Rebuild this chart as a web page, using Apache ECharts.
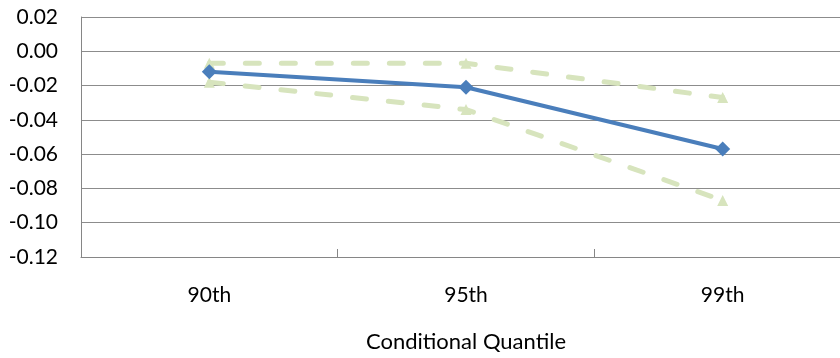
<!DOCTYPE html>
<html>
<head>
<meta charset="utf-8">
<script src="https://cdn.jsdelivr.net/npm/echarts@6/dist/echarts.min.js"></script>
<style>html,body{margin:0;padding:0;background:#fff}#c{width:840px;height:358px}</style>
</head>
<body>
<div id="c"></div>
<script>
var categories = ['90th', '95th', '99th'];
var estimate = [-0.012, -0.021, -0.057];
var upperBound = [-0.007, -0.007, -0.027];
var lowerBound = [-0.018, -0.034, -0.087];
var yTicks = { min: -0.12, max: 0.02, step: 0.02 };

var chart = echarts.init(document.getElementById('c'));
var fontFam = 'Lato, "Open Sans", sans-serif';
var dashStyle = { color: '#d7e4bd', width: 5, type: [14, 22], cap: 'round' };
chart.setOption({
  animation: false,
  grid: { left: 81, top: 17, width: 770, height: 240, containLabel: false, outerBoundsMode: 'none' },
  xAxis: {
    type: 'category',
    data: categories,
    boundaryGap: true,
    name: 'Conditional Quantile',
    nameLocation: 'middle',
    nameGap: 74,
    nameTextStyle: { fontFamily: fontFam, fontSize: 22, color: '#000' },
    axisLine: { onZero: false, lineStyle: { color: '#868686', width: 1 } },
    axisTick: { show: true, inside: true, length: 8, alignWithLabel: false, lineStyle: { color: '#868686' } },
    axisLabel: { margin: 28, fontFamily: fontFam, fontSize: 21, color: '#000' },
    splitLine: { show: false }
  },
  yAxis: {
    type: 'value',
    min: yTicks.min,
    max: yTicks.max,
    interval: yTicks.step,
    axisLine: { show: true, lineStyle: { color: '#868686', width: 1 } },
    axisTick: { show: false },
    axisLabel: { margin: 23, fontFamily: fontFam, fontSize: 21, color: '#000',
      formatter: function (v) { return (Math.abs(v) < 1e-9 ? 0 : v).toFixed(2); } },
    splitLine: { lineStyle: { color: '#8c8c8c', width: 1 } }
  },
  series: [
    { type: 'line', data: upperBound, symbol: 'triangle', symbolSize: 11,
      itemStyle: { color: '#d7e4bd' }, lineStyle: dashStyle, z: 2 },
    { type: 'line', data: lowerBound, symbol: 'triangle', symbolSize: 11,
      itemStyle: { color: '#d7e4bd' }, lineStyle: dashStyle, z: 2 },
    { type: 'line', data: estimate, symbol: 'diamond', symbolSize: 15,
      itemStyle: { color: '#4a7ebb' }, lineStyle: { color: '#4a7ebb', width: 4 }, z: 3 }
  ]
});
</script>
</body>
</html>
